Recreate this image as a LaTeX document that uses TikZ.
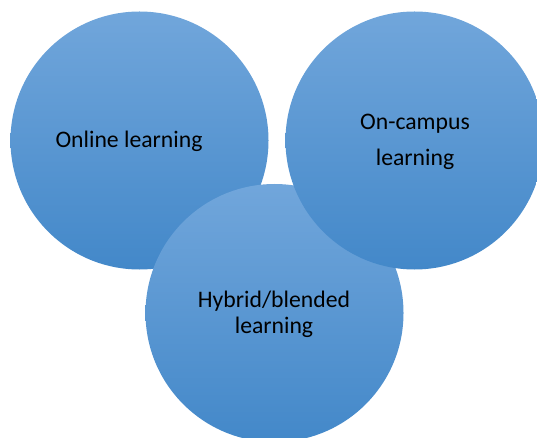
\documentclass[tikz,border=0pt]{standalone}
\usepackage{fontspec}
\setmainfont{Carlito}
\definecolor{discTop}{RGB}{113,166,219}
\definecolor{discBot}{RGB}{67,136,201}
\begin{document}
\begin{tikzpicture}[x=1pt,y=-1pt,
  disc/.style={circle,minimum size=258pt,inner sep=0pt,
    top color=discTop,bottom color=discBot,draw=none},
  caption/.style={align=center,text=black,font=\fontsize{23.7}{26}\selectfont}]
  \useasboundingbox (0,0) rectangle (537,438);
  \clip (0,0) rectangle (537,438);
  % the three overlapping discs, back to front
  \node[disc] (online) at (139.5,140.5) {};
  \node[disc] (hybrid) at (274.5,313) {};
  \node[disc] (campus) at (414.5,140.5) {};
  % captions
  \node[caption] (tonline) at (129,141) {Online learning};
  \node[caption,font=\fontsize{23.7}{36}\selectfont] (tcampus) at (415,142) {On-campus\\learning};
  \node[caption] (thybrid) at (274,314) {Hybrid/blended\\learning};
\end{tikzpicture}
\end{document}
